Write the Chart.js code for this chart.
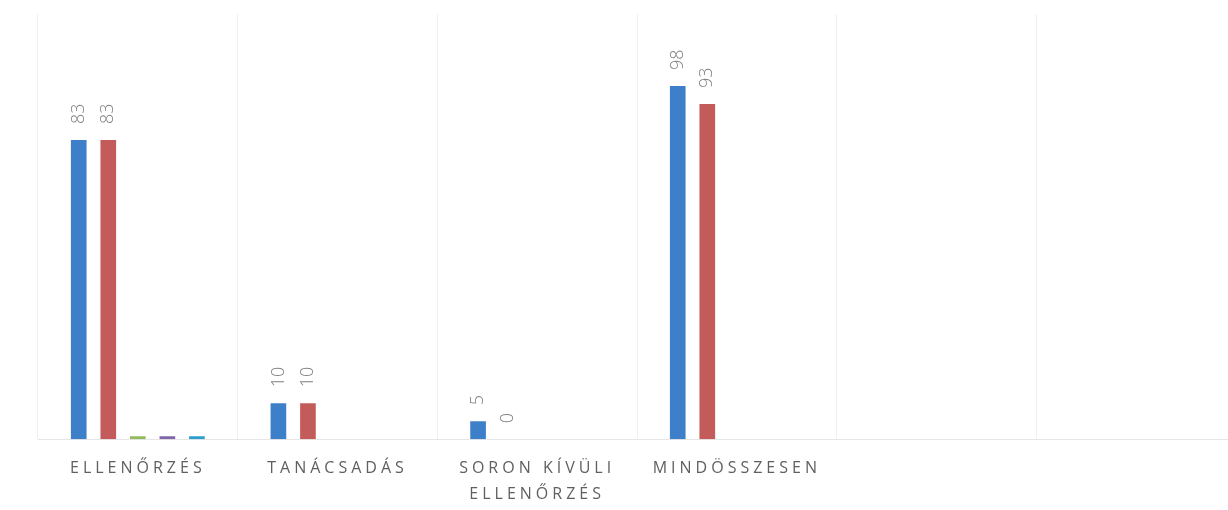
<!DOCTYPE html>
<html>
<head>
<meta charset="utf-8">
<script src="https://cdn.jsdelivr.net/npm/chart.js@4/dist/chart.umd.min.js"></script>
<style>
  html, body { margin: 0; padding: 0; background: #fff; overflow: hidden; }
  #wrap { width: 1236px; height: 510px; }
</style>
</head>
<body>
<div id="wrap"><canvas id="chart"></canvas></div>
<script>
const categories = ['ELLENŐRZÉS', 'TANÁCSADÁS', ['SORON KÍVÜLI', 'ELLENŐRZÉS'], 'MINDÖSSZESEN', '', ''];

const series1 = [83, 10, 5, 98, null, null];
const series2 = [83, 10, 0, 93, null, null];
const series3 = [0.8, null, null, null, null, null];
const series4 = [0.8, null, null, null, null, null];
const series5 = [0.8, null, null, null, null, null];

const colors = ['#3d80c9', '#c45b5b', '#92bb5c', '#7e66a8', '#2b9fd0'];

// rotated value labels above the bars (only first two series show them)
const barLabels = {
    id: 'barLabels',
    afterDatasetsDraw(chart) {
        const ctx = chart.ctx;
        ctx.save();
        ctx.letterSpacing = '0px';
        ctx.font = '300 18px "Open Sans"';
        ctx.fillStyle = '#808080';
        chart.data.datasets.forEach((ds, i) => {
            if (!ds.showLabels) return;
            chart.getDatasetMeta(i).data.forEach((bar, j) => {
                const v = ds.data[j];
                if (v === null || v === undefined) return;
                ctx.save();
                ctx.translate(bar.x, bar.y - 16);
                ctx.rotate(-Math.PI / 2);
                ctx.textAlign = 'left';
                ctx.textBaseline = 'middle';
                ctx.fillText(String(v), 0, 0);
                ctx.restore();
            });
        });
        ctx.restore();
    }
};

const spacing = {
    id: 'spacing',
    beforeDraw(chart) { chart.ctx.letterSpacing = '4px'; }
};

const ctx = document.getElementById('chart');
const myChart = new Chart(ctx, { //eslint-disable-line
    type: 'bar',
    data: {
        labels: categories,
        datasets: [
            { label: 'S1', data: series1, backgroundColor: colors[0], showLabels: true },
            { label: 'S2', data: series2, backgroundColor: colors[1], showLabels: true },
            { label: 'S3', data: series3, backgroundColor: colors[2] },
            { label: 'S4', data: series4, backgroundColor: colors[3] },
            { label: 'S5', data: series5, backgroundColor: colors[4] }
        ]
    },
    options: {
        responsive: true,
        maintainAspectRatio: false,
        animation: false,
        layout: { padding: { left: 38, top: 14, right: 0, bottom: -14 } },
        datasets: { bar: { categoryPercentage: 0.74, barPercentage: 0.53 } },
        plugins: { legend: { display: false }, tooltip: { enabled: false } },
        scales: {
            x: {
                grid: { color: '#f0f0f0', drawTicks: false, offset: true },
                border: { color: '#e6e6e6' },
                ticks: {
                    color: '#5f5f5f',
                    font: { family: '"Open Sans"', size: 16, lineHeight: 1.65 },
                    padding: 16,
                    maxRotation: 0,
                    autoSkip: false
                }
            },
            y: {
                display: false,
                min: 0,
                max: 118
            }
        }
    },
    plugins: [spacing, barLabels]
});
</script>
</body>
</html>
